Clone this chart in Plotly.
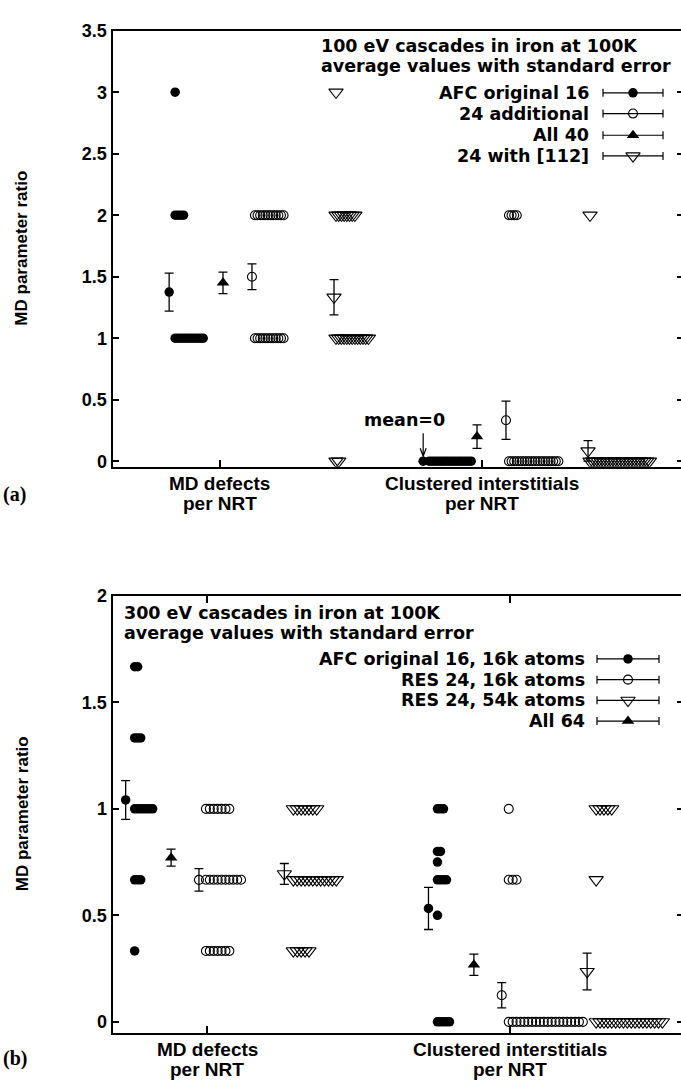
import numpy as np
import plotly.graph_objects as go

W, H = 681, 1090

# ---------------- data ----------------
cat_line1 = ["MD defects", "Clustered interstitials"]
cat_line2 = ["per NRT", "per NRT"]
y_ticks_a = [0, 0.5, 1, 1.5, 2, 2.5, 3, 3.5]
y_tick_text_a = ["0", "0.5", "1", "1.5", "2", "2.5", "3", "3.5"]
y_ticks_b = [0, 0.5, 1, 1.5, 2]
y_tick_text_b = ["0", "0.5", "1", "1.5", "2"]

# panel (a): 100 eV cascades, per-cascade MD parameter ratios
a_afc16_md = [3, 2, 2, 2, 2, 1, 1, 1, 1, 1, 1, 1, 1, 1, 1, 1]
a_afc16_cl = [0, 0, 0, 0, 0, 0, 0, 0, 0, 0, 0, 0, 0, 0, 0, 0]
a_add24_md = [2, 2, 2, 2, 2, 2, 2, 2, 2, 2, 2, 2,
              1, 1, 1, 1, 1, 1, 1, 1, 1, 1, 1, 1]
a_add24_cl = [2, 2, 2, 2, 0, 0, 0, 0, 0, 0, 0, 0,
              0, 0, 0, 0, 0, 0, 0, 0, 0, 0, 0, 0]
a_w112_md = [3, 2, 2, 2, 2, 2, 2, 2, 2, 1, 1, 1,
             1, 1, 1, 1, 1, 1, 1, 1, 1, 1, 0, 0]
a_w112_cl = [2, 0, 0, 0, 0, 0, 0, 0, 0, 0, 0, 0,
             0, 0, 0, 0, 0, 0, 0, 0, 0, 0, 0, 0]

# panel (b): 300 eV cascades
b_afc16_md = [1.667, 1.667, 1.333, 1.333, 1.333, 1, 1, 1, 1, 1, 1, 1,
              0.667, 0.667, 0.667, 0.333]
b_afc16_cl = [1, 1, 1, 0.8, 0.8, 0.75, 0.667, 0.667, 0.667, 0.667, 0.5,
              0, 0, 0, 0, 0]
b_res16_md = [1, 1, 1, 1, 1, 1, 1,
              0.667, 0.667, 0.667, 0.667, 0.667, 0.667, 0.667, 0.667, 0.667, 0.667,
              0.333, 0.333, 0.333, 0.333, 0.333, 0.333, 0.333]
b_res16_cl = [1, 0.667, 0.667, 0.667,
              0, 0, 0, 0, 0, 0, 0, 0, 0, 0, 0, 0, 0, 0, 0, 0, 0, 0, 0, 0]
b_res54_md = [1, 1, 1, 1, 1, 1, 1,
              0.667, 0.667, 0.667, 0.667, 0.667, 0.667, 0.667, 0.667, 0.667, 0.667,
              0.667, 0.667, 0.333, 0.333, 0.333, 0.333, 0.333]
b_res54_cl = [1, 1, 1, 1, 1, 0.667,
              0, 0, 0, 0, 0, 0, 0, 0, 0, 0, 0, 0, 0, 0, 0, 0, 0, 0]

title_a = ["100 eV cascades in iron at 100K", "average values with standard error"]
title_b = ["300 eV cascades in iron at 100K", "average values with standard error"]

# ---------------- layout geometry ----------------
X_DOM = [112.5 / W, 1.0]
YA_DOM = [(H - 463) / H, (H - 21) / H]
YB_DOM = [(H - 1037) / H, (H - 594) / H]
XA_RANGE = [0.577, 2.815]
XB_RANGE = [0.6865, 2.564]
YA_RANGE = [-0.044, 3.5]
YB_RANGE = [-0.051, 2.0]
cat_pos = [1, 2]
tick_pos_a = [1, 2.03]
tick_pos_b = [1, 2]

ppu_a = (X_DOM[1] - X_DOM[0]) * W / (XA_RANGE[1] - XA_RANGE[0])
ppu_b = (X_DOM[1] - X_DOM[0]) * W / (XB_RANGE[1] - XB_RANGE[0])

FONT = "Liberation Sans"
KEYFONT = "DejaVu Sans"
BLACK = "black"

STYLE = {
    "fc": dict(symbol="circle", size=9.5, color=BLACK, line=dict(width=0)),
    "oc": dict(symbol="circle-open", size=9, color=BLACK, line=dict(width=1.1, color=BLACK)),
    "tu": dict(symbol="triangle-up", size=11, color=BLACK, line=dict(width=0)),
    "td": dict(symbol="triangle-down-open", size=12.5, color=BLACK, line=dict(width=1.1, color=BLACK)),
}


def stats(v):
    v = np.asarray(v, dtype=float)
    return v.mean(), v.std(ddof=1) / np.sqrt(len(v))


def row_positions(values, start, step):
    seen = {}
    xs = []
    for val in values:
        k = seen.get(val, 0)
        xs.append(start + k * step)
        seen[val] = k + 1
    return xs


panel_a = [
    dict(name="AFC original 16", data=[a_afc16_md, a_afc16_cl], off=-0.2, st="fc", row=6, step=2.8, pts=True),
    dict(name="24 additional", data=[a_add24_md, a_add24_cl], off=0.126, st="oc", row=3, step=2.6, pts=True),
    dict(name="All 40", data=[a_afc16_md + a_add24_md, a_afc16_cl + a_add24_cl], off=0.012, st="tu", pts=False),
    dict(name="24 with [112]", data=[a_w112_md, a_w112_cl], off=0.449, st="td", row=2, step=2.7, pts=True),
]
panel_b = [
    dict(name="AFC original 16, 16k atoms", data=[b_afc16_md, b_afc16_cl], off=-0.27, st="fc", row=9, step=3.0, pts=True),
    dict(name="RES 24, 16k atoms", data=[b_res16_md, b_res16_cl], off=-0.028, st="oc", row=7, step=3.9, pts=True),
    dict(name="RES 24, 54k atoms", data=[b_res54_md, b_res54_cl], off=0.254, st="td", row=9, step=3.9, pts=True),
    dict(name="All 64", data=[b_afc16_md + b_res16_md + b_res54_md, b_afc16_cl + b_res16_cl + b_res54_cl],
         off=-0.12, st="tu", pts=False),
]

fig = go.Figure()


def add_panel(series, xa, ya, ppu):
    for s in series:
        if not s["pts"]:
            continue
        for ci, vals in enumerate(s["data"]):
            start = cat_pos[ci] + s["off"] + s["row"] / ppu
            xs = row_positions(vals, start, s["step"] / ppu)
            fig.add_trace(go.Scatter(x=xs, y=vals, mode="markers", marker=STYLE[s["st"]],
                                     xaxis=xa, yaxis=ya, showlegend=False, hoverinfo="skip"))
    for s in series:
        for ci, vals in enumerate(s["data"]):
            m, se = stats(vals)
            fig.add_trace(go.Scatter(x=[cat_pos[ci] + s["off"]], y=[m], mode="markers",
                                     marker=STYLE[s["st"]],
                                     error_y=dict(type="data", array=[se], color=BLACK, thickness=1.3, width=4.5),
                                     xaxis=xa, yaxis=ya, showlegend=False, hoverinfo="skip"))


add_panel(panel_a, "x", "y", ppu_a)
add_panel(panel_b, "x2", "y2", ppu_b)

fig.add_trace(go.Scatter(x=[None], y=[None], xaxis="x", yaxis="y3", showlegend=False))
fig.add_trace(go.Scatter(x=[None], y=[None], xaxis="x2", yaxis="y4", showlegend=False))

# ---------------- keys ----------------
txt_font = dict(family=KEYFONT, size=17.5, color=BLACK, weight="bold")
annotations = []


def add_key(series, title, title_x, title_y, rows_y, text_right, sample_c, half):
    for i, line in enumerate(title):
        annotations.append(dict(xref="paper", yref="paper", x=title_x / W, y=1 - title_y[i] / H,
                                xanchor="left", yanchor="middle", text=line, showarrow=False, font=txt_font))
    for k, s in enumerate(series):
        annotations.append(dict(xref="paper", yref="paper", x=text_right / W, y=1 - rows_y[k] / H,
                                xanchor="right", yanchor="middle", text=s["name"], showarrow=False, font=txt_font))
        fig.add_trace(go.Scatter(x=[sample_c], y=[rows_y[k]], mode="markers", marker=STYLE[s["st"]],
                                 error_x=dict(type="data", array=[half], color=BLACK, thickness=1.2, width=4),
                                 xaxis="x5", yaxis="y5", showlegend=False, hoverinfo="skip"))


add_key(panel_a, title_a, 319, [36, 57], [84, 105, 127, 148], 591, 633, 30)
add_key(panel_b, title_b, 122, [611, 632], [658, 679, 700, 721], 587, 628, 31)

afc_cl_x = cat_pos[1] + panel_a[0]["off"]
annotations.append(dict(xref="x", yref="y", x=afc_cl_x, y=0, xanchor="right", yanchor="middle",
                        xshift=24, yshift=41, text="mean=0", showarrow=False, font=txt_font))

shapes = [dict(type="path", xref="x", yref="y", xsizemode="pixel", ysizemode="pixel",
               xanchor=afc_cl_x, yanchor=0, path="M0,5 L0,28 M-3,13 L0,5 L3,13",
               line=dict(color=BLACK, width=1.2))]

# category labels (two lines each)
cat_font = dict(family=FONT, size=19, color=BLACK, weight="bold")
for xr, tpos, base in (("x", tick_pos_a, 463), ("x2", tick_pos_b, 1037)):
    for i in range(2):
        for txt, dy in ((cat_line1[i], 17), (cat_line2[i], 37)):
            annotations.append(dict(xref=xr, yref="paper", x=tpos[i], y=1 - (base + dy) / H, xanchor="center",
                                    yanchor="middle", text=txt, showarrow=False, font=cat_font))

for dom in (YA_DOM, YB_DOM):
    annotations.append(dict(xref="paper", yref="paper", x=22 / W, y=(dom[0] + dom[1]) / 2,
                            xanchor="center", yanchor="middle", textangle=-90, text="MD parameter ratio",
                            showarrow=False, font=dict(family=FONT, size=17, color=BLACK, weight="bold")))
for letter, ypx in (("(a)", 491), ("(b)", 1063)):
    annotations.append(dict(xref="paper", yref="paper", x=1 / W, y=1 - ypx / H, xanchor="left",
                            yanchor="middle", text=letter, showarrow=False,
                            font=dict(family="Liberation Serif", size=20, color=BLACK, weight="bold")))

tick_font = dict(family=FONT, size=18, color=BLACK, weight="bold")

common_x = dict(domain=X_DOM, showgrid=False, zeroline=False, showline=True, linecolor=BLACK, linewidth=2,
                ticks="inside", ticklen=7, tickwidth=1.5, tickcolor=BLACK, showticklabels=False)
common_y = dict(showgrid=False, zeroline=False, showline=True, linecolor=BLACK, linewidth=2,
                ticks="inside", ticklen=6, tickwidth=1.5, tickcolor=BLACK, tickfont=tick_font)
right_y = dict(showticklabels=False, showline=False, showgrid=False, zeroline=False, ticks="inside",
               ticklen=4, tickwidth=1.5, tickcolor=BLACK, side="right")

fig.update_layout(
    width=W, height=H, margin=dict(l=0, r=0, t=0, b=0),
    paper_bgcolor="white", plot_bgcolor="rgba(0,0,0,0)", showlegend=False,
    xaxis=dict(common_x, range=XA_RANGE, anchor="y", tickvals=tick_pos_a, mirror=True),
    yaxis=dict(common_y, domain=YA_DOM, range=YA_RANGE, anchor="x", tickvals=y_ticks_a, ticktext=y_tick_text_a),
    xaxis2=dict(common_x, range=XB_RANGE, anchor="y2", tickvals=tick_pos_b, mirror="ticks"),
    yaxis2=dict(common_y, domain=YB_DOM, range=YB_RANGE, anchor="x2", tickvals=y_ticks_b, ticktext=y_tick_text_b),
    yaxis3=dict(right_y, overlaying="y", anchor="x", range=YA_RANGE, tickvals=y_ticks_a),
    yaxis4=dict(right_y, overlaying="y2", anchor="x2", range=YB_RANGE, tickvals=y_ticks_b),
    xaxis5=dict(domain=[0, 1], range=[0, W], anchor="y5", visible=False),
    yaxis5=dict(domain=[0, 1], range=[H, 0], anchor="x5", visible=False),
    annotations=annotations, shapes=shapes,
)

fig.write_html("out.html")
